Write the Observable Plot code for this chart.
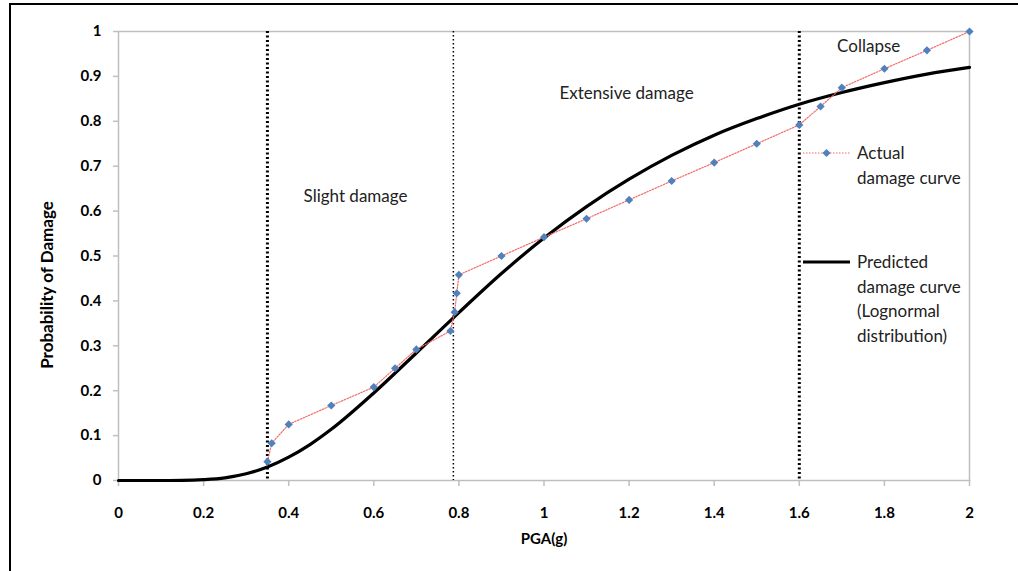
<!DOCTYPE html>
<html>
<head>
<meta charset="utf-8">
<script src="https://cdn.jsdelivr.net/npm/d3@7"></script>
<script src="https://cdn.jsdelivr.net/npm/@observablehq/plot@0.6"></script>
<style>
  html, body { margin: 0; padding: 0; background: #fff; }
  #wrap { position: relative; width: 1018px; height: 571px; overflow: hidden; font-family: Lato, "Open Sans", sans-serif; }
  #border { position: absolute; left: 9px; top: 3px; width: 1020px; height: 580px; border-left: 2px solid #000; border-top: 2px solid #000; pointer-events: none; }
  #legend { position: absolute; left: 0; top: 0; }
</style>
</head>
<body>
<div id="wrap"><div id="border"></div></div>
<script>
// Actual damage curve (observed points)
const actualX = [0.35, 0.36, 0.4, 0.5, 0.6, 0.65, 0.7, 0.78, 0.79, 0.795, 0.8, 0.9, 1.0, 1.1, 1.2, 1.3, 1.4, 1.5, 1.6, 1.65, 1.7, 1.8, 1.9, 2.0];
const actualY = [0.042, 0.083, 0.125, 0.167, 0.208, 0.25, 0.292, 0.333, 0.375, 0.417, 0.458, 0.5, 0.542, 0.583, 0.625, 0.667, 0.708, 0.75, 0.792, 0.833, 0.875, 0.917, 0.958, 1.0];

// Predicted damage curve (lognormal)
const predX = [0, 0.1, 0.15, 0.2, 0.25, 0.3, 0.35, 0.4, 0.45, 0.5, 0.6, 0.7, 0.8, 0.9, 1.0, 1.1, 1.2, 1.3, 1.4, 1.5, 1.6, 1.7, 1.8, 1.9, 2.0];
const predY = [0, 0, 0.0003, 0.002, 0.006, 0.015, 0.030, 0.052, 0.080, 0.114, 0.195, 0.284, 0.374, 0.461, 0.540, 0.610, 0.671, 0.724, 0.769, 0.806, 0.838, 0.864, 0.886, 0.905, 0.920];

// Damage state thresholds
const thickThresholds = [0.35, 1.6];
const thinThresholds = [0.787];

// Region labels
const regionLabels = ["Slight damage", "Extensive damage", "Collapse"];
const regionX = [0.557, 1.194, 1.763];
const regionY = [0.632, 0.862, 0.967];

// Ticks
const xTicks = [0, 0.2, 0.4, 0.6, 0.8, 1.0, 1.2, 1.4, 1.6, 1.8, 2.0];
const yTicks = [0, 0.1, 0.2, 0.3, 0.4, 0.5, 0.6, 0.7, 0.8, 0.9, 1.0];

const xLabel = "PGA(g)";
const yLabel = "Probability of Damage";
const legendActual = ["Actual", "damage curve"];
const legendPred = ["Predicted", "damage curve", "(Lognormal", "distribution)"];

const actual = actualX.map((x, i) => ({x, y: actualY[i]}));
const pred = predX.map((x, i) => ({x, y: predY[i]}));
const regions = regionLabels.map((t, i) => ({t, x: regionX[i], y: regionY[i]}));
const fmt = d => String(+d.toFixed(1));

const chart = Plot.plot({
  width: 1018,
  height: 571,
  marginLeft: 118,
  marginRight: 49,
  marginTop: 31,
  marginBottom: 91,
  x: {domain: [0, 2]},
  y: {domain: [0, 1]},
  style: {fontFamily: "Lato, 'Open Sans', sans-serif", fontSize: "15px", color: "#000", background: "transparent", overflow: "visible"},
  marks: [
    Plot.frame({stroke: "#bfbfbf", strokeWidth: 1.5}),
    Plot.axisX(xTicks, {tickSize: 6, stroke: "#bfbfbf", strokeWidth: 1.5, text: null, label: null}),
    Plot.axisX(xTicks, {tickSize: 0, tickPadding: 27, tickFormat: fmt, fontWeight: "bold", fontSize: 15, label: null}),
    Plot.axisY(yTicks, {tickSize: 5, stroke: "#bfbfbf", strokeWidth: 1.5, text: null, label: null}),
    Plot.axisY(yTicks, {tickSize: 0, tickPadding: 17, tickFormat: fmt, fontWeight: "bold", fontSize: 15, label: null}),
    Plot.text([xLabel], {frameAnchor: "bottom", dy: 63, fontWeight: "bold", fontSize: 15}),
    Plot.ruleX(thickThresholds, {stroke: "#000", strokeWidth: 3, strokeDasharray: "2,2.5"}),
    Plot.ruleX(thinThresholds, {stroke: "#000", strokeWidth: 1.5, strokeDasharray: "1.5,2.5"}),
    Plot.line(pred, {x: "x", y: "y", stroke: "#000", strokeWidth: 3.2, curve: "monotone-x"}),
    Plot.line(actual, {x: "x", y: "y", stroke: "#f26b6b", strokeWidth: 1.2, strokeDasharray: "1.5,1.5"}),
    Plot.dot(actual, {x: "x", y: "y", symbol: "diamond2", r: 3.7, fill: "#4f81bd", stroke: "none"}),
    Plot.text(regions, {x: "x", y: "y", text: "t", fontSize: 17, fill: "#222"})
  ]
});
const wrap = document.getElementById("wrap");
chart.style.position = "absolute";
chart.style.left = "0px";
chart.style.top = "0px";
wrap.appendChild(chart);

// Overlay: y-axis title and legend
const lg = d3.select(wrap).append("svg").attr("id", "legend").attr("width", 1018).attr("height", 571)
  .style("font-family", "Lato, 'Open Sans', sans-serif").style("font-size", "17px");
lg.append("text").attr("transform", "translate(47,285) rotate(-90)").attr("text-anchor", "middle").attr("dy", "0.35em")
  .attr("font-weight", "bold").attr("font-size", "17px").attr("fill", "#000").text(yLabel);
const g1 = lg.append("g").attr("transform", "translate(803,153)");
g1.append("line").attr("x1", 0).attr("x2", 47).attr("stroke", "#f26b6b").attr("stroke-width", 1.2).attr("stroke-dasharray", "1.5,1.5");
g1.append("path").attr("d", d3.symbol(d3.symbolDiamond2, 43)()).attr("transform", "translate(23.5,0)").attr("fill", "#4f81bd");
legendActual.forEach((t, i) => g1.append("text").attr("x", 54).attr("y", i * 25.5).attr("dy", "0.35em").attr("fill", "#222").text(t));
const g2 = lg.append("g").attr("transform", "translate(803,262)");
g2.append("line").attr("x1", 0).attr("x2", 47).attr("stroke", "#000").attr("stroke-width", 3.2);
legendPred.forEach((t, i) => g2.append("text").attr("x", 54).attr("y", i * 24.7).attr("dy", "0.35em").attr("fill", "#222").text(t));
</script>
</body>
</html>
